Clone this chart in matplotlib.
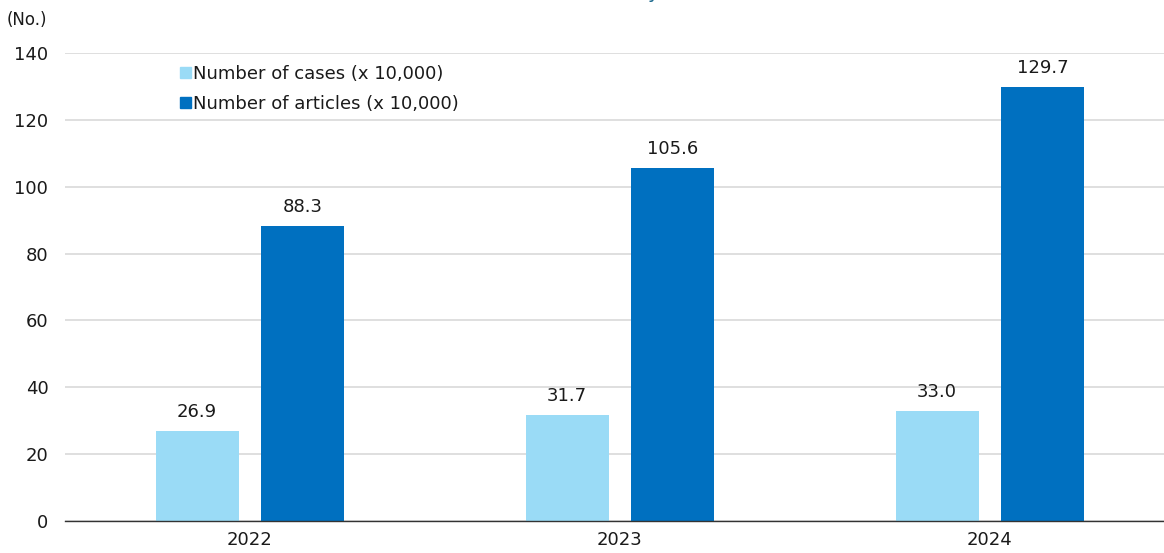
import matplotlib
matplotlib.use("Agg")
import matplotlib.pyplot as plt
import numpy as np
from matplotlib.patches import Patch

years = ["2022", "2023", "2024"]
cases = [26.9, 31.7, 33.0]
articles = [88.3, 105.6, 129.7]
labels = ["Number of cases (x 10,000)", "Number of articles (x 10,000)"]
yticks = [0, 20, 40, 60, 80, 100, 120, 140]

c_light = "#9adbf6"
c_dark = "#0070c0"
txt = "#1a1a1a"

plt.rcParams['font.family'] = ['DejaVu Sans']
fig = plt.figure(figsize=(11.64, 5.53), dpi=100)
ax = fig.add_axes([65/1164, 1-521/553, 1-65/1164, (521-53)/553])

x = np.arange(len(years)) + 0.5
w = 0.224
off = 0.143
b1 = ax.bar(x - off, cases, w, color=c_light)
b2 = ax.bar(x + off, articles, w, color=c_dark)
for rect, v in zip(b1, cases):
    ax.text(rect.get_x() + rect.get_width()/2, v + 3, f"{v:.1f}", ha='center', va='bottom', fontsize=13, color=txt)
for rect, v in zip(b2, articles):
    ax.text(rect.get_x() + rect.get_width()/2, v + 3, f"{v:.1f}", ha='center', va='bottom', fontsize=13, color=txt)

ax.set_xlim(0, 1099/370)
ax.set_ylim(0, 140)
ax.set_yticks(yticks)
ax.set_xticks(x)
ax.set_xticklabels(years)
ax.tick_params(axis='both', length=0, labelsize=13, colors=txt)
ax.tick_params(axis='y', pad=12)
ax.tick_params(axis='x', pad=7)
ax.yaxis.grid(True, color='#d9d9d9', linewidth=1.2)
ax.set_axisbelow(True)
for s in ['top', 'right', 'left']:
    ax.spines[s].set_visible(False)
ax.spines['bottom'].set_color('#333333')
ax.spines['bottom'].set_linewidth(1)

fig.text(7/1164, 1-20/553, "(No.)", fontsize=12, va='center', ha='left', color=txt)

handles = [Patch(color=c_light), Patch(color=c_dark)]
leg = ax.legend(handles, labels, loc='upper left', bbox_to_anchor=((168-65)/1099, 1.0), bbox_transform=ax.transAxes,
                frameon=False, fontsize=13, handlelength=0.6, handleheight=0.6, handletextpad=0.15, labelspacing=0.68,
                borderaxespad=0.25)
for t in leg.get_texts():
    t.set_color(txt)

fig.text(653/1164, 1 + 2/553, "y", fontsize=14, color='#1f6b8f', ha='center', va='baseline')

fig.savefig("out.png", dpi=100)
